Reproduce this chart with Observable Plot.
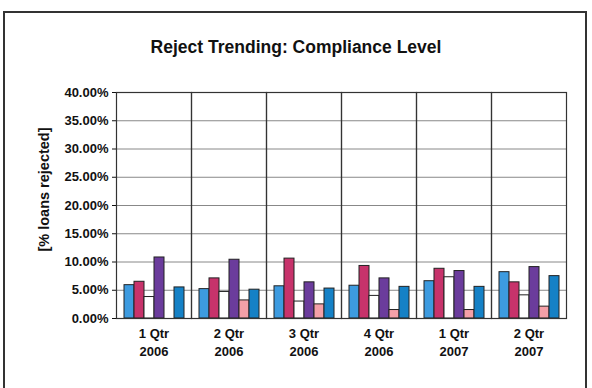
<!DOCTYPE html>
<html>
<head>
<meta charset="utf-8">
<script src="https://cdn.jsdelivr.net/npm/d3@7"></script>
<script src="https://cdn.jsdelivr.net/npm/@observablehq/plot@0.6"></script>
<style>
  body { margin: 0; background: #fff; }
  #wrap { position: relative; width: 592px; height: 388px; overflow: hidden; font-family: "Liberation Sans", Arial, sans-serif; }
  #border { position: absolute; left: 3px; top: 11px; width: 584px; height: 400px; border: 2px solid #333; box-sizing: border-box; }
  #title { position: absolute; left: 0; top: 36px; width: 592px; text-align: center; font-weight: bold; font-size: 17.5px; line-height: 22px; color: #111; }
  #chart { position: absolute; left: 0; top: 0; }
</style>
</head>
<body>
<div id="wrap">
  <div id="border"></div>
  <div id="title">Reject Trending: Compliance Level</div>
  <div id="chart"></div>
</div>
<script>
const quarters = ["1 Qtr\n2006", "2 Qtr\n2006", "3 Qtr\n2006", "4 Qtr\n2006", "1 Qtr\n2007", "2 Qtr\n2007"];
const seriesNames = ["Series 1", "Series 2", "Series 3", "Series 4", "Series 5", "Series 6"];
const seriesColors = ["#3d9be0", "#c7336b", "#ffffff", "#6b3c9c", "#f4a0a8", "#1581c6"];
const s1 = [5.9, 5.2, 5.7, 5.8, 6.6, 8.2];
const s2 = [6.5, 7.1, 10.6, 9.3, 8.8, 6.4];
const s3 = [3.8, 4.7, 3.0, 4.0, 7.3, 4.1];
const s4 = [10.8, 10.4, 6.4, 7.1, 8.4, 9.1];
const s5 = [0, 3.2, 2.5, 1.5, 1.5, 2.1];
const s6 = [5.5, 5.1, 5.3, 5.6, 5.6, 7.5];
const yTicks = [0, 0.05, 0.10, 0.15, 0.20, 0.25, 0.30, 0.35, 0.40];
const yLabel = "[% loans rejected]";

const allSeries = [s1, s2, s3, s4, s5, s6];
const data = [];
quarters.forEach((q, i) => {
  allSeries.forEach((s, j) => {
    data.push({quarter: q, series: seriesNames[j], value: s[i] / 100});
  });
});

const chart = Plot.plot({
  width: 592,
  height: 388,
  marginLeft: 113,
  marginRight: 24,
  marginTop: 92,
  marginBottom: 70,
  style: {fontFamily: "'Liberation Sans', Arial, sans-serif", fontWeight: "bold", fontSize: "13px", color: "#111", background: "transparent"},
  fx: {domain: quarters, padding: 0, label: null},
  x: {domain: seriesNames, paddingInner: 0, paddingOuter: 0.75, axis: null},
  y: {domain: [0, 0.4], label: null},
  color: {domain: seriesNames, range: seriesColors},
  marks: [
    Plot.gridY(yTicks, {stroke: "#888", strokeOpacity: 1, strokeWidth: 1}),
    Plot.barY(data, {fx: "quarter", x: "series", y: "value", fill: "series", stroke: "#222", strokeWidth: 1}),
    Plot.frame({stroke: "#333", strokeWidth: 1.2}),
    Plot.axisY({ticks: yTicks, tickFormat: d3.format(".2%"), tickSize: 4, tickPadding: 4, fontSize: 13, fontWeight: "bold", label: null}),
    Plot.text([yLabel], {fx: [quarters[0]], text: d => d, frameAnchor: "left", textAnchor: "middle", rotate: -90, dx: -72, dy: -16, fontSize: 14.5, fontWeight: "bold", fill: "#111"}),
    Plot.axisFx({anchor: "bottom", tickSize: 0, tickPadding: 7, fontSize: 13, fontWeight: "bold", lineHeight: 1.38, label: null})
  ]
});
document.getElementById("chart").appendChild(chart);
</script>
</body>
</html>
